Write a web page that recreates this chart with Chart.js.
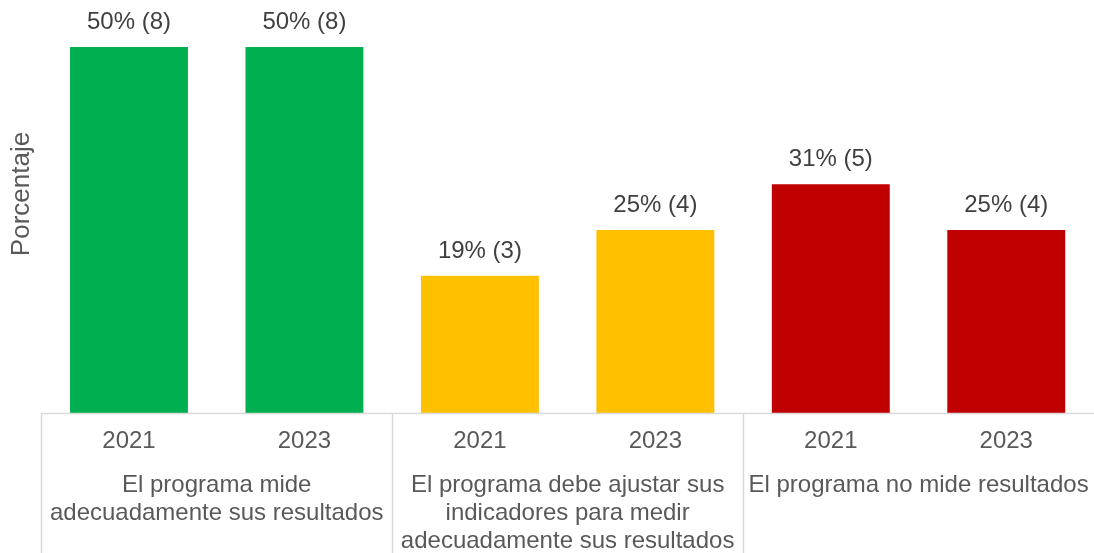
<!DOCTYPE html>
<html>
<head>
<meta charset="utf-8">
<script src="https://cdn.jsdelivr.net/npm/chart.js@4"></script>
<style>
html,body{margin:0;padding:0;background:#fff;}
#wrap{width:1094px;height:553px;position:relative;}
</style>
</head>
<body>
<div id="wrap"><canvas id="c" width="1094" height="553"></canvas></div>
<script>
// ---- data ----
const years = ["2021", "2023", "2021", "2023", "2021", "2023"];
const groups = [
  ["El programa mide", "adecuadamente sus resultados"],
  ["El programa debe ajustar sus", "indicadores para medir", "adecuadamente sus resultados"],
  ["El programa no mide resultados"]
];
const percentValues = [50, 50, 18.75, 25, 31.25, 25];
const counts = [8, 8, 3, 4, 5, 4];
const barColors = ["#00B050", "#00B050", "#FFC000", "#FFC000", "#C00000", "#C00000"];
const yTitle = "Porcentaje";

const FONT = "'Liberation Sans', Arial, sans-serif";

const labelPlugin = {
  id: 'customLabels',
  afterDatasetsDraw(chart) {
    const ctx = chart.ctx;
    const meta = chart.getDatasetMeta(0);
    ctx.save();
    ctx.font = "24px " + FONT;
    ctx.fillStyle = "#404040";
    ctx.textAlign = "center";
    ctx.textBaseline = "middle";
    meta.data.forEach((bar, i) => {
      const txt = Math.round(percentValues[i]) + "% (" + counts[i] + ")";
      ctx.fillText(txt, bar.x, bar.y - 24.5);
    });
    ctx.restore();
  },
  afterDraw(chart) {
    const ctx = chart.ctx;
    const area = chart.chartArea;
    const xs = chart.scales.x;
    const H = chart.height;
    ctx.save();
    // y axis title
    ctx.save();
    ctx.translate(22, 194);
    ctx.rotate(-Math.PI / 2);
    ctx.font = "26px " + FONT;
    ctx.fillStyle = "#595959";
    ctx.textAlign = "center";
    ctx.textBaseline = "middle";
    ctx.fillText(yTitle, 0, 0);
    ctx.restore();
    // baseline
    ctx.strokeStyle = "#D9D9D9";
    ctx.lineWidth = 1.5;
    ctx.beginPath();
    ctx.moveTo(area.left, area.bottom + 0.5);
    ctx.lineTo(area.right, area.bottom + 0.5);
    ctx.stroke();
    // separators
    const slot = (area.right - area.left) / years.length;
    const per = years.length / groups.length;
    for (let g = 0; g < groups.length; g++) {
      const x = Math.round(area.left + g * per * slot) + 0.5;
      ctx.beginPath();
      ctx.moveTo(x, area.bottom);
      ctx.lineTo(x, H);
      ctx.stroke();
    }
    // year labels
    ctx.font = "24px " + FONT;
    ctx.fillStyle = "#595959";
    ctx.textAlign = "center";
    ctx.textBaseline = "middle";
    years.forEach((y, i) => {
      ctx.fillText(y, xs.getPixelForValue(i), area.bottom + 28.5);
    });
    // group labels
    groups.forEach((lines, g) => {
      const cx = area.left + (g * per + per / 2) * slot;
      lines.forEach((ln, k) => {
        ctx.fillText(ln, cx, area.bottom + 72 + k * 28);
      });
    });
    ctx.restore();
  }
};

new Chart(document.getElementById('c'), {
  type: 'bar',
  data: {
    labels: years.map((y, i) => i),
    datasets: [{
      data: percentValues,
      backgroundColor: barColors,
      borderWidth: 0,
      categoryPercentage: 1,
      barPercentage: 0.672
    }]
  },
  options: {
    responsive: false,
    animation: false,
    layout: { padding: { top: 0, right: 0, bottom: 140, left: 0 } },
    plugins: { legend: { display: false }, tooltip: { enabled: false } },
    scales: {
      x: { display: false },
      y: {
        min: 0,
        max: 56.42,
        grid: { display: false },
        border: { display: false },
        ticks: { display: false },
        title: { display: false },
        afterFit(scale) { scale.width = 41.25; }
      }
    }
  },
  plugins: [labelPlugin]
});
</script>
</body>
</html>
